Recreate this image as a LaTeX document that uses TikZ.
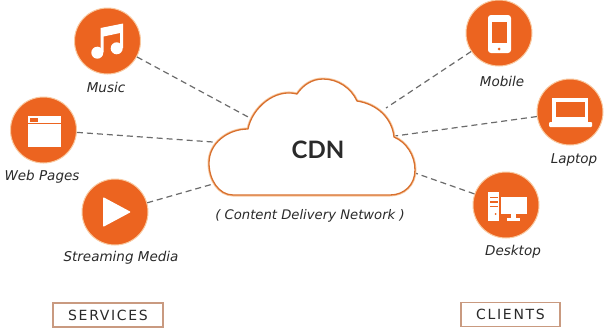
\documentclass[tikz,border=0pt]{standalone}
\usepackage{fontspec}
\setmainfont{DejaVu Sans}
\newfontfamily\cdnfont{Lato}
\newfontfamily\tagfont[LetterSpace=12]{DejaVu Sans}
\definecolor{cdnorange}{HTML}{EC6420}
\definecolor{cdnglow}{HTML}{F9C9A0}
\definecolor{cdnink}{HTML}{2A2A2A}
\definecolor{cdnbox}{HTML}{C99A80}
\tikzset{
  x=1pt,y=-1pt,
  hub/.style={circle,fill=cdnorange,draw=cdnglow,line width=1pt,minimum size=66pt,inner sep=0pt},
  lbl/.style={font=\fontsize{13.5}{15}\selectfont\itshape,text=cdnink,inner sep=0pt},
  sublbl/.style={font=\fontsize{13.2}{15}\selectfont\itshape,text=cdnink,inner sep=0pt},
  tag/.style={draw=cdnbox,line width=1.3pt,fill=white,font=\tagfont\fontsize{14}{16}\selectfont,text=cdnink,inner sep=0pt,minimum height=24pt},
  link/.style={draw=gray!85!black,line width=1.2pt,dash pattern=on 6pt off 4pt},
  ico/.style={fill=white,draw=none},
  hole/.style={fill=cdnorange,draw=none},
  cloudline/.style={draw=cdnglow,line width=3pt},
  cloudedge/.style={draw=cdnorange!55!brown,line width=1.3pt,fill=white,line join=round},
}
\begin{document}
\begin{tikzpicture}
\useasboundingbox[fill=white] (0,0) rectangle (610,333);

% hubs
\node[hub] (music) at (107.5,41) {};
\node[hub] (web) at (43.5,130) {};
\node[hub] (stream) at (115,212) {};
\node[hub] (mobile) at (499,33) {};
\node[hub] (laptop) at (570,112) {};
\node[hub] (desktop) at (506,205) {};

% cloud attachment points
\coordinate (cMusic) at (250,118);
\coordinate (cWeb) at (213,142);
\coordinate (cStream) at (213,184);
\coordinate (cMobile) at (386,108);
\coordinate (cLaptop) at (395,136);
\coordinate (cDesktop) at (415,173);

% connectors
\draw[link] (music) -- (cMusic);
\draw[link] (web) -- (cWeb);
\draw[link] (stream) -- (cStream);
\draw[link] (mobile) -- (cMobile);
\draw[link] (laptop) -- (cLaptop);
\draw[link] (desktop) -- (cDesktop);

% cloud
\path[preaction={cloudline},cloudedge]
  (233,195) .. controls (219,195) and (209,180) .. (209,163)
  .. controls (209,143) and (228,129) .. (248,129)
  .. controls (252,108) and (275,88) .. (297,94)
  .. controls (303,85) and (312,79) .. (323,79)
  .. controls (338,79) and (351,88) .. (357,101)
  .. controls (377,104) and (392,118) .. (394,137)
  .. controls (406,142) and (415,155) .. (415,170)
  .. controls (415,185) and (404,195) .. (390,195) -- cycle;
\node[font=\cdnfont\bfseries\fontsize{24}{28}\selectfont,text=cdnink,inner sep=0pt] (cdn) at (318,150) {CDN};
\node[sublbl] (cdnsub) at (310,216) {( Content Delivery Network )};

% music icon
\fill[ico] (97.3,52.7) circle (6);
\fill[ico] (116.7,48.3) circle (6);
\fill[ico] (100.5,52) -- (100.5,28) -- (123,23.5) -- (123,48) -- (120,48) -- (120,33) -- (103.5,36.5) -- (103.5,52) -- cycle;

% web page icon
\fill[ico] (28,116) rectangle (61,147);
\fill[hole] (28,123) rectangle (61,124);
\fill[hole] (30,118) rectangle (38,121.5);

% play icon
\fill[ico,rounded corners=1pt] (103,197) -- (131,212) -- (103,227) -- cycle;

% mobile icon
\fill[ico,rounded corners=3pt] (488,15) rectangle (511,53);
\fill[hole] (492,22) rectangle (507,43);
\fill[hole] (499,49) circle (1.5);

% laptop icon
\fill[ico] (552,98) rectangle (588,122);
\fill[hole] (556,102) rectangle (585,117);
\fill[ico,rounded corners=1pt] (549,122) rectangle (592,127);

% desktop icon
\fill[ico] (488,192) rectangle (499,221);
\fill[hole] (490,196.5) rectangle (498,198);
\fill[hole] (490,201) rectangle (498,202.5);
\fill[hole] (490,205.5) rectangle (498,207);
\fill[hole] (495.5,214) circle (1);
\fill[ico] (501,197) rectangle (527,214);
\fill[ico] (511,214) rectangle (516,218);
\fill[ico] (507,218) rectangle (520,221);

% labels
\node[lbl] (musicl) at (106,87) {Music};
\node[lbl] (webl) at (42,177) {Web Pages};
\node[lbl] (streaml) at (121,258) {Streaming Media};
\node[lbl] (mobilel) at (502,81) {Mobile};
\node[lbl] (laptopl) at (574,160) {Laptop};
\node[lbl] (desktopl) at (513,252) {Desktop};

% tags
\node[tag,minimum width=110pt] (services) at (108,315) {SERVICES};
\node[tag,minimum width=99pt] (clients) at (510.5,314.5) {CLIENTS};
\end{tikzpicture}
\end{document}
